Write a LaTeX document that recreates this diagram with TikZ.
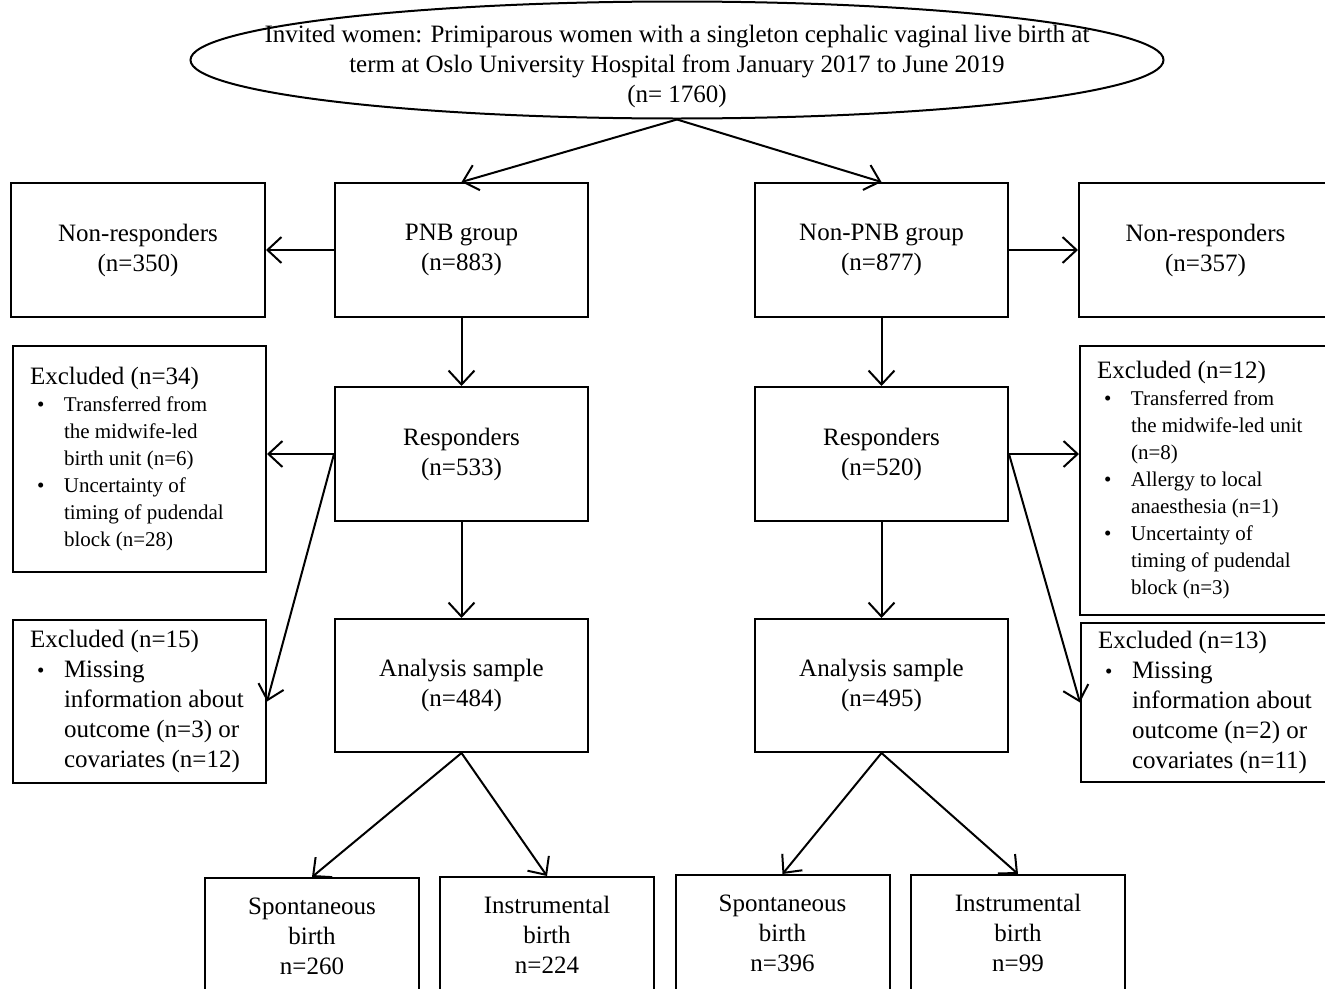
\documentclass[tikz,border=0pt]{standalone}
\usepackage{fontspec}
\setmainfont{Liberation Serif}
\usetikzlibrary{positioning, shapes.geometric, arrows.meta}

\newcommand{\bigtxt}{\fontsize{25}{30}\selectfont}
\newcommand{\smalltxt}{\fontsize{21}{27}\selectfont}
% one line of an exclusion list
\newcommand{\exitem}[1]{\noindent\makebox[34pt][l]{\hspace{7pt}{\fontsize{21}{27}\selectfont\textbullet}}#1\par}
\newcommand{\exmore}[1]{\noindent\hspace*{34pt}#1\par}

\tikzset{
  box/.style={draw, minimum width=253pt, minimum height=134pt, inner sep=0pt, align=center, font=\bigtxt},
  exbox/.style={draw, minimum width=253pt, inner sep=0pt, font=\bigtxt},
  outbox/.style={box, minimum width=214pt, minimum height=116pt}
}

\begin{document}
\begin{tikzpicture}[x=1pt, y=-1pt, >={Straight Barb[length=14pt,width=26pt]}, line width=2pt]

\clip (0,0) rectangle (1325,988);

% top
\node[draw, ellipse, minimum width=973pt, minimum height=117pt, inner sep=0pt] (invited) at (677,60) {};
\node[font=\bigtxt, align=center] (invitedtxt) at (677,66) {Invited women: Primiparous women with a singleton cephalic vaginal live birth at\\ term at Oslo University Hospital from January 2017 to June 2019\\ (n= 1760)};

% groups
\node[box, minimum width=254pt] (nonresp1) at (138,250) {Non-responders\\ (n=350)};
\node[box] (pnb) at (461.5,250) {PNB group\\ (n=883)};
\node[box] (nonpnb) at (881.5,250) {Non-PNB group\\ (n=877)};
\node[box] (nonresp2) at (1205.5,250) {Non-responders\\ (n=357)};

\node[box] (resp1) at (461.5,454) {Responders\\ (n=533)};
\node[box] (resp2) at (881.5,454) {Responders\\ (n=520)};

\node[box, minimum height=133pt] (ana1) at (461.5,685.5) {Analysis sample\\ (n=484)};
\node[box, minimum height=133pt] (ana2) at (881.5,685.5) {Analysis sample\\ (n=495)};

% exclusions
\node[exbox, minimum height=226pt] (excl1) at (139.5,459) {\parbox{219pt}{\bigtxt
  \noindent Excluded (n=34)\par\smalltxt
  \exitem{Transferred from}
  \exmore{the midwife-led}
  \exmore{birth unit (n=6)}
  \exitem{Uncertainty of}
  \exmore{timing of pudendal}
  \exmore{block (n=28)}}};
\node[exbox, minimum height=163pt] (excl2) at (139.5,701.5) {\parbox{219pt}{\bigtxt
  \noindent Excluded (n=15)\par
  \exitem{Missing}
  \exmore{information about}
  \exmore{outcome (n=3) or}
  \exmore{covariates (n=12)}}};
\node[exbox, minimum height=269pt] (excl3) at (1206.5,480.5) {\parbox{219pt}{\bigtxt
  \noindent Excluded (n=12)\par\smalltxt
  \exitem{Transferred from}
  \exmore{the midwife-led unit}
  \exmore{(n=8)}
  \exitem{Allergy to local}
  \exmore{anaesthesia (n=1)}
  \exitem{Uncertainty of}
  \exmore{timing of pudendal}
  \exmore{block (n=3)}}};
\node[exbox, minimum height=159pt] (excl4) at (1207.5,702.5) {\parbox{219pt}{\bigtxt
  \noindent Excluded (n=13)\par
  \exitem{Missing}
  \exmore{information about}
  \exmore{outcome (n=2) or}
  \exmore{covariates (n=11)}}};

% mode of birth
\node[outbox] (spont1) at (312,936) {Spontaneous\\ birth\\ n=260};
\node[outbox] (instr1) at (547,935) {Instrumental\\ birth\\ n=224};
\node[outbox] (spont2) at (782.5,933) {Spontaneous\\ birth\\ n=396};
\node[outbox] (instr2) at (1018,933) {Instrumental\\ birth\\ n=99};

% arrows
\draw[->] (invited.south) -- (pnb.north);
\draw[->] (invited.south) -- (nonpnb.north);
\draw[->] (pnb.west) -- (nonresp1.east);
\draw[->] (nonpnb.east) -- (nonresp2.west);
\draw[->] (pnb.south) -- (resp1.north);
\draw[->] (nonpnb.south) -- (resp2.north);
\draw[->] (resp1.west) -- (resp1.west -| excl1.east);
\draw[->] (resp1.west) -- (excl2.east);
\draw[->] (resp2.east) -- (resp2.east -| excl3.west);
\draw[->] (resp2.east) -- (excl4.west);
\draw[->] (resp1.south) -- (ana1.north);
\draw[->] (resp2.south) -- (ana2.north);
\draw[->] (ana1.south) -- (spont1.north);
\draw[->] (ana1.south) -- (instr1.north);
\draw[->] (ana2.south) -- (spont2.north);
\draw[->] (ana2.south) -- (instr2.north);

\end{tikzpicture}
\end{document}
